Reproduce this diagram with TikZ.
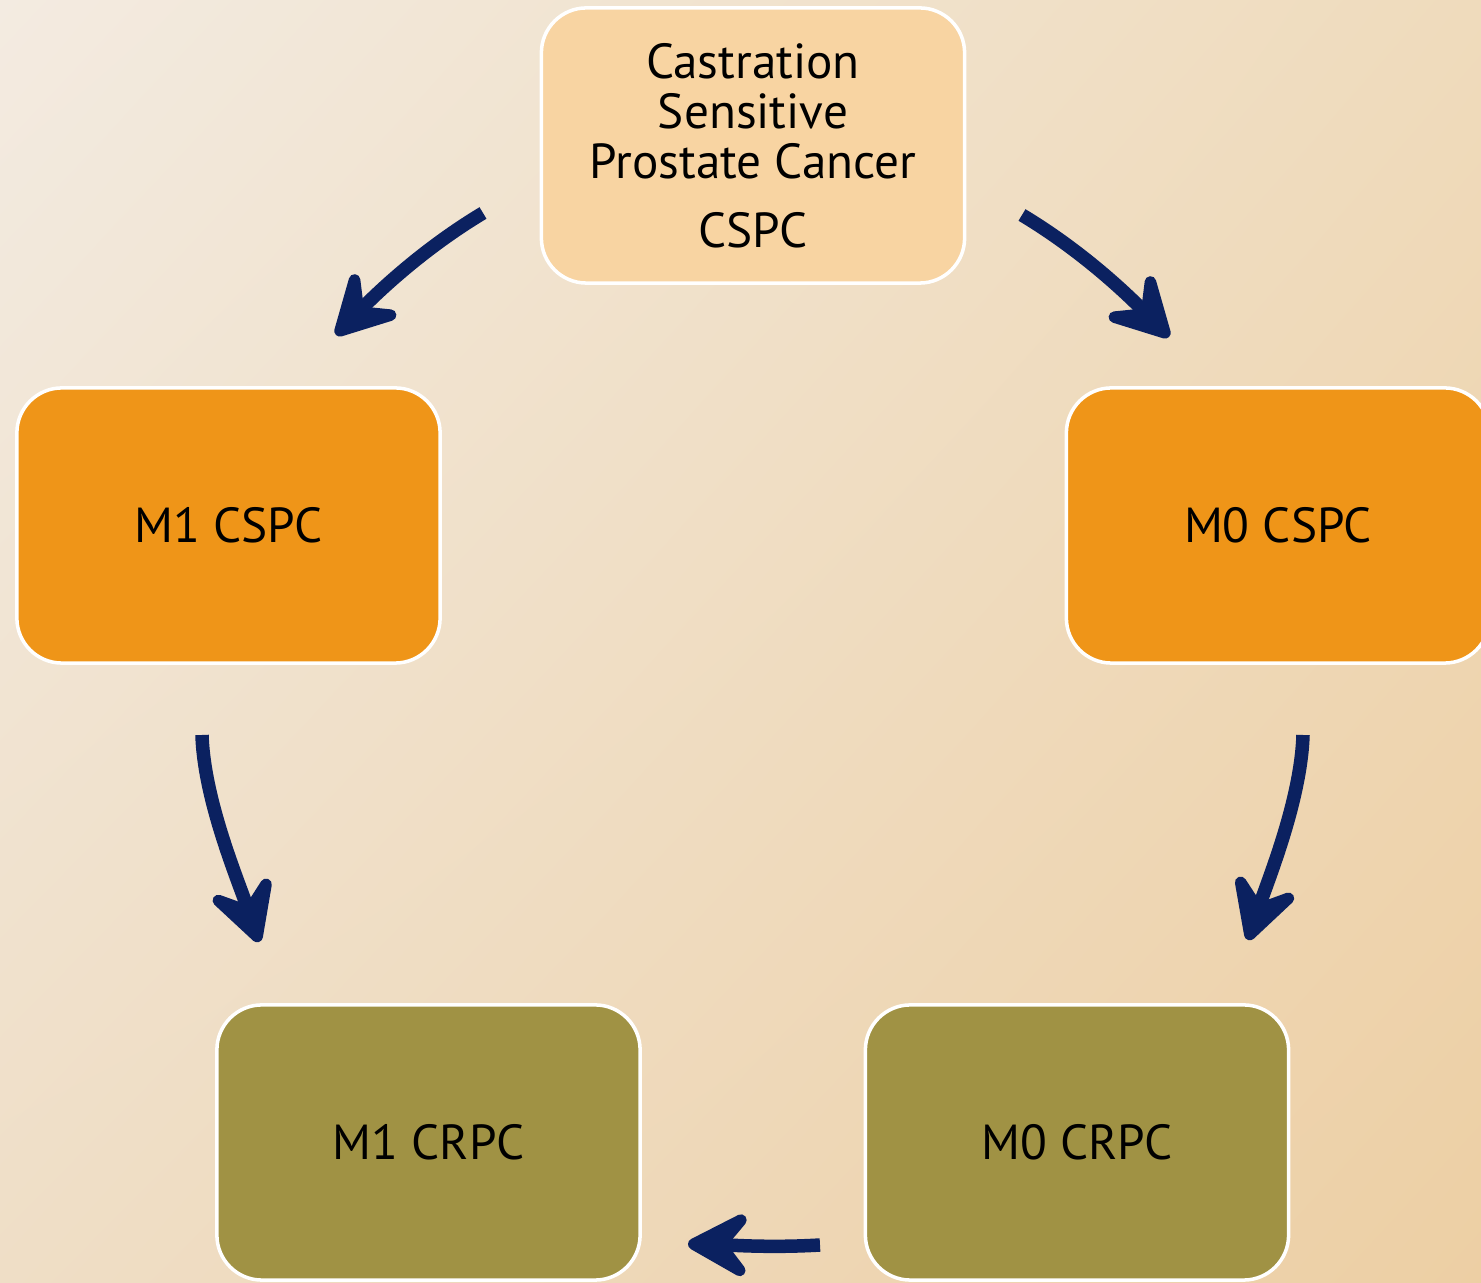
\documentclass[tikz,border=0pt]{standalone}
\usepackage{fontspec}
\setmainfont{PT Sans}
\usepackage{tikz}
\usetikzlibrary{arrows.meta,shadings}

\definecolor{navy}{HTML}{0B2160}
\definecolor{peach}{HTML}{F8D4A2}
\definecolor{orangebox}{HTML}{EF9518}
\definecolor{olivebox}{HTML}{A09244}
\definecolor{bgul}{HTML}{F3EBE1}
\definecolor{bgur}{HTML}{EFDBBC}
\definecolor{bgll}{HTML}{EFDEC6}
\definecolor{bglr}{HTML}{EDCFA4}

\begin{document}
\begin{tikzpicture}[x=0.01cm,y=-0.01cm]
            \tikzstyle{stage}=[rectangle,draw=white,line width=1pt,rounded corners=0.45cm,minimum width=4.23cm,minimum height=2.75cm,inner sep=0pt,align=center,font=\fontsize{14}{14.2}\selectfont]
            \tikzstyle{arrow}=[navy,line width=0.135cm,-{Stealth[length=0.8cm,width=0.86cm,inset=0.34cm,round]}]

                \useasboundingbox (0,0) rectangle (1481,1283);
                \shade[upper left=bgul,upper right=bgur,lower left=bgll,lower right=bglr] (0,0) rectangle (1481,1283);

                \node[stage,fill=peach] (C-0) at (753,145.5){Castration\\Sensitive\\Prostate Cancer\\[5.5pt]CSPC};
                \node[stage,fill=orangebox] (C-1) at (228.5,525.5){M1 CSPC};
                \node[stage,fill=orangebox] (C-2) at (1278,525.5){M0 CSPC};
                \node[stage,fill=olivebox] (C-3) at (428.5,1142.5){M1 CRPC};
                \node[stage,fill=olivebox] (C-4) at (1077,1142.5){M0 CRPC};

                \coordinate (A-1) at (483,213);  \coordinate (B-1) at (336,335);
                \coordinate (A-2) at (1022,215); \coordinate (B-2) at (1169,337);
                \coordinate (A-3) at (202,735);  \coordinate (B-3) at (259,942);
                \coordinate (A-4) at (1303,735); \coordinate (B-4) at (1248,940);
                \coordinate (A-5) at (820,1245); \coordinate (B-5) at (688,1244);

                \draw[arrow] (A-1) .. controls (423,249) and (378,292) .. (B-1);
                \draw[arrow] (A-2) .. controls (1082,251) and (1127,294) .. (B-2);
                \draw[arrow] (A-3) .. controls (204,800) and (238,880) .. (B-3);
                \draw[arrow] (A-4) .. controls (1301,800) and (1268,880) .. (B-4);
                \draw[arrow] (A-5) .. controls (770,1248) and (730,1245) .. (B-5);
        \end{tikzpicture}
\end{document}
